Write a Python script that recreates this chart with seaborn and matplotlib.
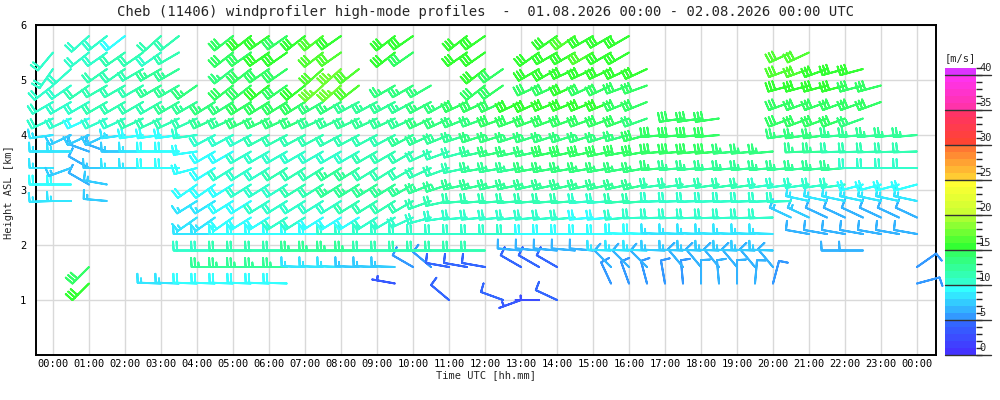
import numpy as np
import matplotlib
matplotlib.use("Agg")
import matplotlib.pyplot as plt
import matplotlib.colors as mcolors
import matplotlib.transforms as mtrans
import seaborn as sns

N = None
# time axis: every 30 minutes from 00:00 to 24:00 (hours)
times = [i * 0.5 for i in range(49)]
heights = [1.0, 1.3, 1.6, 1.9, 2.2, 2.5, 2.8, 3.1, 3.4, 3.7, 4.0, 4.3, 4.6, 4.9, 5.2, 5.5, 5.8]

# wind speed [m/s] and direction [deg, from] per height level
s_58 = [N,N,10,10,9,N,11,11,  N,N,14,15,15,14,15,16,  15,N,N,15,15,N,N,15,  15,N,N,N,15,16,15,15,
        15,N,N,N,N,N,N,N,  N,N,N,N,N,N,N,N,  N]
d_58 = [N,N,228,232,232,N,228,232,  N,N,232,232,235,235,232,232,  235,N,N,232,235,N,N,232,
        235,N,N,N,235,235,240,240,  240,N,N,N,N,N,N,N,  N,N,N,N,N,N,N,N,  N]
s_55 = [10,N,10,10,11,11,10,11,  N,N,14,14,15,15,N,16,  16,N,N,15,14,N,N,15,  15,N,N,15,15,15,16,15,
        15,N,N,N,N,N,N,N,  N,16,16,N,N,N,N,N,  N]
d_55 = [220,N,232,235,235,235,235,240,  N,N,232,235,235,235,N,232,  235,N,N,232,235,N,N,235,
        235,N,N,235,240,240,240,240,  240,N,N,N,N,N,N,N,  N,245,245,N,N,N,N,N,  N]
s_52 = [10,10,N,11,11,11,12,12,  N,N,13,14,14,14,N,16,  17,16,N,N,N,N,N,N,  15,14,N,15,15,15,15,15,
        15,15,N,N,N,N,N,N,  N,16,16,15,15,15,N,N,  N]
d_52 = [215,228,N,235,235,240,240,240,  N,N,232,232,235,235,N,228,  228,232,N,N,N,N,N,N,
        232,235,N,240,240,245,245,245,  245,245,N,N,N,N,N,N,  N,250,250,250,255,255,N,N,  N]
s_49 = [10,10,11,11,11,11,12,12,  13,N,14,14,15,14,15,17,  17,16,N,13,13,13,N,N,  14,14,N,14,14,15,14,14,
        14,14,N,N,N,N,N,N,  N,15,15,15,15,14,14,N,  N]
d_49 = [232,235,235,240,240,240,240,240,  235,N,232,232,232,235,232,228,  228,232,N,240,240,240,N,N,
        232,235,N,245,245,245,245,245,  250,250,N,N,N,N,N,N,  N,255,255,255,255,255,255,N,  N]
s_46 = [10,10,10,11,11,11,11,12,  12,13,13,14,14,14,14,13,  13,12,12,12,12,13,13,14,  14,14,15,15,15,15,15,15,
        14,14,N,N,N,N,N,N,  N,14,14,14,14,14,14,N,  N]
d_46 = [240,240,240,240,240,240,240,240,  240,238,238,238,238,238,238,240,  240,242,242,242,242,242,242,245,
        245,245,245,245,248,248,248,248,  248,248,N,N,N,N,N,N,  N,250,250,250,250,250,250,N,  N]
s_43 = [10,10,9,10,10,11,11,11,  11,12,12,13,13,13,13,12,  12,12,12,12,12,13,13,13,  13,14,14,14,14,14,14,14,
        14,13,N,14,14,14,N,N,  N,14,14,14,14,13,N,N,  N]
d_43 = [245,245,245,245,245,245,245,245,  245,245,245,245,245,245,245,245,  245,245,245,245,245,245,245,248,
        250,250,250,250,250,250,250,250,  250,250,N,262,262,262,N,N,  N,250,250,250,250,250,N,N,  N]
s_40 = [8,7,7,7,8,9,9,9,  10,10,10,10,11,11,11,11,  11,11,11,11,12,12,12,12,  13,13,13,13,13,13,13,13,
        13,14,14,14,14,14,N,N,  N,13,13,13,12,12,12,12,  12]
d_40 = [262,245,245,245,262,262,262,262,  262,242,242,242,242,242,242,242,  242,242,242,242,242,245,248,252,
        252,252,252,252,252,252,252,252,  255,255,265,265,265,265,N,N,  N,262,262,262,265,265,265,265,  265]
s_37 = [8,8,6,6,7,8,9,9,  9,9,9,10,10,10,10,10,  10,10,11,11,11,11,11,11,  12,13,13,13,14,14,14,14,
        14,14,14,14,14,14,13,13,  13,N,12,12,11,11,11,11,  11]
d_37 = [270,270,290,290,270,270,270,270,  262,240,240,240,240,240,240,240,  240,240,240,240,240,245,250,255,
        258,258,258,258,258,258,258,258,  260,260,265,265,265,265,265,265,  265,N,268,268,268,268,268,268,  268]
s_34 = [8,7,6,7,8,8,9,9,  9,9,10,10,10,11,11,11,  12,12,11,11,11,11,11,11,  12,12,12,13,13,13,13,13,
        13,13,13,12,12,12,12,12,  12,12,12,12,12,10,10,10,  10]
d_34 = [270,250,300,270,270,270,270,270,  255,238,238,238,238,238,238,238,  238,238,238,238,240,245,250,258,
        260,260,260,260,260,260,260,260,  260,260,265,265,265,265,265,265,  265,265,265,265,265,270,270,270,  270]
s_31 = [9,9,6,7,N,N,N,N,  9,9,9,10,10,10,11,11,  12,12,12,12,12,12,12,12,  12,12,12,12,12,12,12,12,
        12,12,11,11,11,11,11,11,  10,10,10,10,10,9,9,9,  9]
d_31 = [270,270,300,280,N,N,N,N,  235,235,238,238,238,238,238,238,  238,238,238,238,240,248,252,258,
        258,258,258,258,258,258,258,258,  258,258,262,262,262,262,262,262,  262,262,262,262,262,255,255,255,  255]
s_28 = [8,8,N,7,N,N,N,N,  8,8,9,9,10,10,10,10,  10,11,11,11,11,11,11,11,  11,11,11,11,11,11,10,10,
        11,11,10,10,10,10,10,10,  10,10,8,8,8,8,8,8,  8]
d_28 = [268,270,N,275,N,N,N,N,  238,238,238,238,238,238,238,238,  238,238,238,238,240,250,258,265,
        265,265,265,265,265,265,265,265,  265,265,268,268,268,268,268,268,  268,268,282,282,282,282,282,282,  282]
s_25 = [N,N,N,N,N,N,N,N,  8,8,9,9,9,10,10,9,  9,9,10,10,10,10,10,10,  10,10,10,10,10,10,9,9,
        10,10,10,10,10,10,10,10,  10,7,7,6,6,6,6,6,  6]
d_25 = [N,N,N,N,N,N,N,N,  235,235,235,238,238,238,238,238,  238,238,238,240,245,255,262,265,
        265,265,265,265,265,265,265,265,  265,268,268,268,268,268,268,268,  268,295,295,295,295,295,295,295,  295]
s_22 = [N,N,N,N,N,N,N,N,  8,8,9,9,9,9,9,9,  10,10,10,10,10,10,10,10,  10,10,10,9,9,9,9,9,
        9,9,8,8,8,8,8,8,  8,N,6,6,6,6,6,6,  6]
d_22 = [N,N,N,N,N,N,N,N,  270,270,270,270,270,270,270,270,  270,270,270,270,270,270,270,270,
        270,270,270,270,270,270,270,270,  272,272,272,272,272,272,272,272,  272,N,280,280,280,280,280,280,  280]
s_19 = [N,N,N,N,N,N,N,N,  10,10,11,11,11,11,12,12,  12,12,11,11,11,11,11,11,  11,N,6,6,6,6,6,8,
        8,8,7,7,7,7,7,7,  7,N,N,N,6,6,N,N,  N]
d_19 = [N,N,N,N,N,N,N,N,  270,270,270,270,270,270,270,270,  270,270,270,270,270,270,270,270,
        270,N,275,275,275,275,275,272,  272,272,272,272,272,272,272,272,  272,N,N,N,270,270,N,N,  N]
s_16 = [N,N,14,N,N,N,N,N,  N,12,12,12,12,12,8,8,  8,7,7,7,5,5,4,4,  4,N,4,4,4,N,N,6,
        6,6,N,6,6,6,6,6,  6,N,N,N,N,N,N,N,  5]
d_16 = [N,N,225,N,N,N,N,N,  N,270,270,270,270,270,272,272,  272,272,272,272,300,310,280,280,
        280,N,300,300,300,N,N,315,  315,315,N,320,320,320,320,320,  320,N,N,N,N,N,N,N,  55]
s_13 = [N,N,15,N,N,N,8,8,  9,9,9,9,9,9,N,N,  N,N,N,3,N,N,N,N,  N,N,N,N,N,N,N,5,
        5,5,5,5,6,6,6,6,  5,N,N,N,N,N,N,N,  5]
d_13 = [N,N,225,N,N,N,272,272,  272,272,272,272,272,272,N,N,  N,N,N,280,N,N,N,N,
        N,N,N,N,N,N,N,335,  340,345,350,355,0,355,0,5,  15,N,N,N,N,N,N,N,  75]
s_10 = [N,N,N,N,N,N,N,N,  N,N,N,N,N,N,N,N,  N,N,N,N,N,N,4,N,  N,4,3,2,4,N,N,N,
        N,N,N,N,N,N,N,N,  N,N,N,N,N,N,N,N,  N]
d_10 = [N,N,N,N,N,N,N,N,  N,N,N,N,N,N,N,N,  N,N,N,N,N,N,310,N,  N,290,250,270,295,N,N,N,
        N,N,N,N,N,N,N,N,  N,N,N,N,N,N,N,N,  N]

speed_levels = [s_10, s_13, s_16, s_19, s_22, s_25, s_28, s_31, s_34, s_37, s_40, s_43, s_46, s_49, s_52, s_55, s_58]
dir_levels = [d_10, d_13, d_16, d_19, d_22, d_25, d_28, d_31, d_34, d_37, d_40, d_43, d_46, d_49, d_52, d_55, d_58]

hour_labels = [f"{h % 24:02d}:00" for h in range(25)]
cbar_ticks = [0, 5, 10, 15, 20, 25, 30, 35, 40]
title = "Cheb (11406) windprofiler high-mode profiles  -  01.08.2026 00:00 - 02.08.2026 00:00 UTC"

# ---------------------------------------------------------------
xs, ys, us, vs, cs = [], [], [], [], []
for h, sl, dl in zip(heights, speed_levels, dir_levels):
    assert len(sl) == 49 and len(dl) == 49, (h, len(sl), len(dl))
    for t, s, d in zip(times, sl, dl):
        if s is None:
            continue
        r = np.deg2rad(d)
        xs.append(t); ys.append(h)
        us.append(-s * np.sin(r)); vs.append(-s * np.cos(r)); cs.append(s)

# colour scale: 1 m/s bands
anchor_v = [0, 4, 5, 9, 10, 14, 15, 19, 20, 24, 25, 29, 30, 34, 35, 39, 40, 41]
anchor_c = ['#4433ff', '#3366ff', '#3399ff', '#33ffff', '#33ffcc', '#33ff66', '#33ff33', '#aaff33',
            '#ccff33', '#ffff33', '#ffcc33', '#ff7733', '#ff4433', '#ff3366', '#ff33aa', '#ff33ee',
            '#dd33ff', '#dd33ff']
rgb = np.array([mcolors.to_rgb(c) for c in anchor_c])
band_cols = [tuple(np.interp(k, anchor_v, rgb[:, j]) for j in range(3)) for k in range(41)]
cmap = mcolors.ListedColormap(band_cols)
norm = mcolors.BoundaryNorm(np.arange(0, 42), cmap.N)

sns.set_theme(style="white")
plt.rcParams['font.family'] = ['DejaVu Sans Mono']

fig = plt.figure(figsize=(10, 4), dpi=100)
ax = fig.add_axes([0.036, 0.1125, 0.9, 0.825])
ax.set_xlim(-0.472, 24.528)
ax.set_ylim(0, 6)
ax.set_xticks(range(25))
ax.set_xticklabels(hour_labels)
ax.set_yticks([1, 2, 3, 4, 5, 6])
ax.set_yticklabels(['1', '2', '3', '4', '5', '6'])
ax.tick_params(axis='x', length=0, pad=3, labelsize=7.5, colors='black')
ax.tick_params(axis='y', length=0, pad=7, labelsize=7.5, colors='black')
ax.grid(True, color='#d9d9d9', linewidth=1.0)
ax.set_axisbelow(True)
for sp in ax.spines.values():
    sp.set_color('black')
    sp.set_linewidth(1.4)

ax.barbs(xs, ys, us, vs, cs, cmap=cmap, norm=norm, length=5.8, linewidth=1.4,
         sizes=dict(spacing=0.15, height=0.38, width=0.05),
         barb_increments=dict(half=2.5, full=5, flag=25), clip_on=False, zorder=3)

fig.text(0.4855, 0.97, title, ha='center', va='center', fontsize=10)
fig.text(0.486, 0.0625, 'Time UTC [hh.mm]', ha='center', va='center', fontsize=7.5)
fig.text(0.009, 0.52, 'Height ASL [km]', ha='center', va='center', rotation=90, fontsize=7.5)

# colour bar
cax = fig.add_axes([0.945, 0.1125, 0.031, 0.7175])
sm = matplotlib.cm.ScalarMappable(norm=norm, cmap=cmap)
cb = fig.colorbar(sm, cax=cax, boundaries=np.arange(0, 42))
cb.outline.set_visible(False)
cax.set_yticks([])
cax.set_ylim(0, 41)
blend = mtrans.blended_transform_factory(cax.transAxes, cax.transData)
for v in cbar_ticks:
    cax.plot([0, 1.47], [v, v], transform=blend, color='#333333', lw=1.0, clip_on=False)
    cax.text(1.1, v + 0.3, str(v), transform=blend, ha='left', va='bottom', fontsize=7.5)
fig.text(0.9605, 0.855, '[m/s]', ha='center', va='center', fontsize=7.5)

fig.savefig('out.png', dpi=100)
